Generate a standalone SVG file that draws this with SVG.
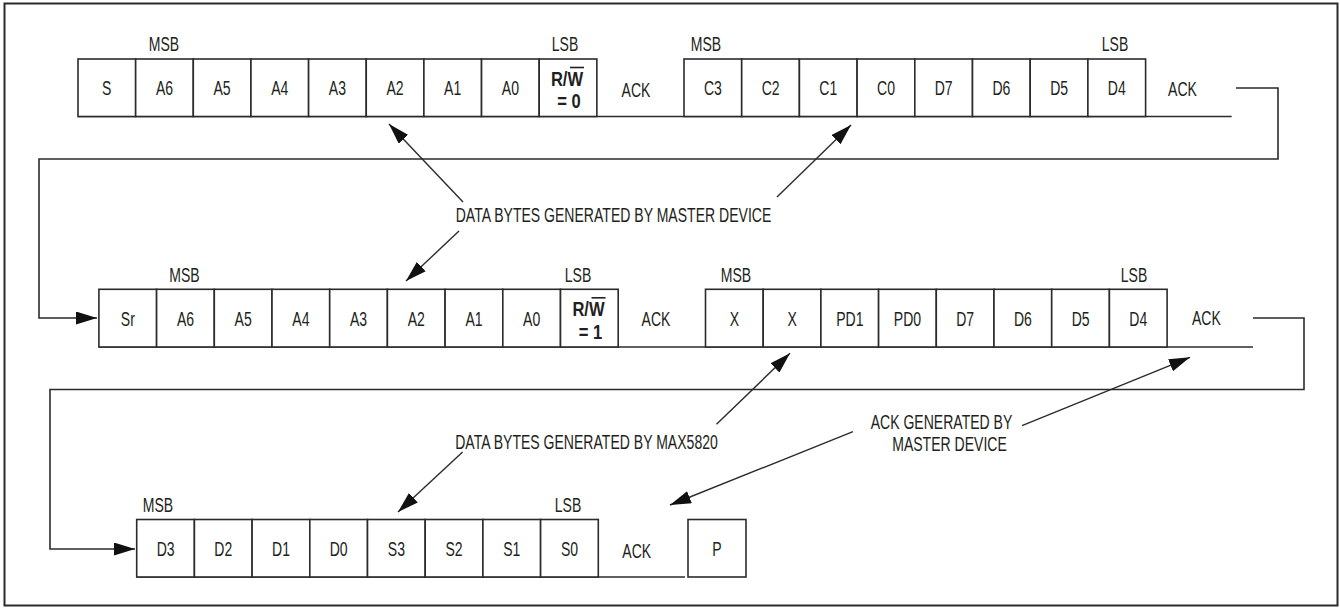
<svg xmlns="http://www.w3.org/2000/svg" width="1340" height="608" viewBox="0 0 1340 608">
<defs>
<style>
.frame{fill:none;stroke:#2b2b2b;stroke-width:2}
.cell{fill:#fff;stroke:#2b2b2b;stroke-width:1.6}
.ln{fill:none;stroke:#2b2b2b;stroke-width:1.6}
.ar{fill:none;stroke:#2b2b2b;stroke-width:1.4}
text{font-family:"Liberation Sans",Arial,sans-serif;font-size:19.5px;fill:#231f20;text-anchor:middle}
.b{font-weight:bold}
</style>
<marker id="ah" markerUnits="userSpaceOnUse" markerWidth="21" markerHeight="13" refX="21" refY="6.5" orient="auto" viewBox="0 0 21 13">
<path d="M0,0 L21,6.5 L0,13 Z" fill="#111"/>
</marker>
</defs>
<rect x="4.5" y="3.5" width="1333" height="602" class="frame"/>

<g id="connectors">
<polyline class="ln" points="1236,88 1278,88 1278,159 39,159 39,318 97,318" marker-end="url(#ah)"/>
<polyline class="ln" points="1253,318 1304,318 1304,389.5 50,389.5 50,549 135,549" marker-end="url(#ah)"/>
<line class="ar" x1="463" y1="202" x2="389" y2="124" marker-end="url(#ah)"/>
<line class="ar" x1="777" y1="197" x2="851" y2="125" marker-end="url(#ah)"/>
<line class="ar" x1="459" y1="231" x2="406" y2="281" marker-end="url(#ah)"/>
<line class="ar" x1="716.5" y1="424.3" x2="790" y2="353.3" marker-end="url(#ah)"/>
<line class="ar" x1="1022" y1="425.7" x2="1190" y2="357.3" marker-end="url(#ah)"/>
<line class="ar" x1="462.6" y1="452" x2="398" y2="512" marker-end="url(#ah)"/>
<line class="ar" x1="853" y1="431.7" x2="670" y2="505" marker-end="url(#ah)"/>
</g>

<g id="row1-address">
<line class="ln" x1="78" y1="116.5" x2="1231.7" y2="116.5"/>
<rect class="cell" x="78" y="59" width="57.65" height="57.5"/>
<rect class="cell" x="135.65" y="59" width="57.65" height="57.5"/>
<rect class="cell" x="193.3" y="59" width="57.65" height="57.5"/>
<rect class="cell" x="250.95" y="59" width="57.65" height="57.5"/>
<rect class="cell" x="308.6" y="59" width="57.65" height="57.5"/>
<rect class="cell" x="366.25" y="59" width="57.65" height="57.5"/>
<rect class="cell" x="423.9" y="59" width="57.65" height="57.5"/>
<rect class="cell" x="481.55" y="59" width="57.65" height="57.5"/>
<rect class="cell" x="539.2" y="59" width="57.65" height="57.5"/>
<text transform="translate(164 51) scale(0.72 1)">MSB</text>
<text transform="translate(565 51) scale(0.72 1)">LSB</text>
<text transform="translate(106.8 95) scale(0.72 1)">S</text>
<text transform="translate(164.5 95) scale(0.72 1)">A6</text>
<text transform="translate(222.1 95) scale(0.72 1)">A5</text>
<text transform="translate(279.8 95) scale(0.72 1)">A4</text>
<text transform="translate(337.4 95) scale(0.72 1)">A3</text>
<text transform="translate(395.1 95) scale(0.72 1)">A2</text>
<text transform="translate(452.7 95) scale(0.72 1)">A1</text>
<text transform="translate(510.4 95) scale(0.72 1)">A0</text>
<text class="b" transform="translate(567 85.5) scale(0.85 1)">R/W</text>
<line x1="570" y1="67.5" x2="584" y2="67.5" stroke="#231f20" stroke-width="1.6"/>
<text class="b" transform="translate(569 108) scale(0.85 1)">= 0</text>
<text transform="translate(636 97) scale(0.72 1)">ACK</text>
</g>

<g id="row1-command">
<rect class="cell" x="684" y="59" width="57.7" height="57.5"/>
<rect class="cell" x="741.7" y="59" width="57.7" height="57.5"/>
<rect class="cell" x="799.4" y="59" width="57.7" height="57.5"/>
<rect class="cell" x="857.1" y="59" width="57.7" height="57.5"/>
<rect class="cell" x="914.8" y="59" width="57.7" height="57.5"/>
<rect class="cell" x="972.5" y="59" width="57.7" height="57.5"/>
<rect class="cell" x="1030.2" y="59" width="57.7" height="57.5"/>
<rect class="cell" x="1087.9" y="59" width="57.7" height="57.5"/>
<text transform="translate(706 51) scale(0.72 1)">MSB</text>
<text transform="translate(1115 51) scale(0.72 1)">LSB</text>
<text transform="translate(712.9 95) scale(0.72 1)">C3</text>
<text transform="translate(770.6 95) scale(0.72 1)">C2</text>
<text transform="translate(828.3 95) scale(0.72 1)">C1</text>
<text transform="translate(886 95) scale(0.72 1)">C0</text>
<text transform="translate(943.7 95) scale(0.72 1)">D7</text>
<text transform="translate(1001.4 95) scale(0.72 1)">D6</text>
<text transform="translate(1059.1 95) scale(0.72 1)">D5</text>
<text transform="translate(1116.8 95) scale(0.72 1)">D4</text>
<text transform="translate(1182.5 96) scale(0.72 1)">ACK</text>
</g>

<g id="label-master">
<text transform="translate(613.5 221.5) scale(0.72 1)">DATA BYTES GENERATED BY MASTER DEVICE</text>
</g>

<g id="row2-address">
<line class="ln" x1="98.9" y1="347" x2="1253" y2="347"/>
<rect class="cell" x="98.9" y="289.3" width="57.7" height="57.7"/>
<rect class="cell" x="156.6" y="289.3" width="57.7" height="57.7"/>
<rect class="cell" x="214.3" y="289.3" width="57.7" height="57.7"/>
<rect class="cell" x="272" y="289.3" width="57.7" height="57.7"/>
<rect class="cell" x="329.7" y="289.3" width="57.7" height="57.7"/>
<rect class="cell" x="387.4" y="289.3" width="57.7" height="57.7"/>
<rect class="cell" x="445.1" y="289.3" width="57.7" height="57.7"/>
<rect class="cell" x="502.8" y="289.3" width="57.7" height="57.7"/>
<rect class="cell" x="560.5" y="289.3" width="57.7" height="57.7"/>
<text transform="translate(184.5 281.5) scale(0.72 1)">MSB</text>
<text transform="translate(578 281.5) scale(0.72 1)">LSB</text>
<text transform="translate(127.8 325.5) scale(0.72 1)">Sr</text>
<text transform="translate(185.5 325.5) scale(0.72 1)">A6</text>
<text transform="translate(243.2 325.5) scale(0.72 1)">A5</text>
<text transform="translate(300.9 325.5) scale(0.72 1)">A4</text>
<text transform="translate(358.6 325.5) scale(0.72 1)">A3</text>
<text transform="translate(416.3 325.5) scale(0.72 1)">A2</text>
<text transform="translate(474 325.5) scale(0.72 1)">A1</text>
<text transform="translate(531.7 325.5) scale(0.72 1)">A0</text>
<text class="b" transform="translate(588.5 315.8) scale(0.85 1)">R/W</text>
<line x1="591.5" y1="297.8" x2="605.5" y2="297.8" stroke="#231f20" stroke-width="1.6"/>
<text class="b" transform="translate(590.5 338.5) scale(0.85 1)">= 1</text>
<text transform="translate(656 326) scale(0.72 1)">ACK</text>
</g>

<g id="row2-data">
<rect class="cell" x="705.5" y="289.3" width="57.7" height="57.7"/>
<rect class="cell" x="763.2" y="289.3" width="57.7" height="57.7"/>
<rect class="cell" x="820.9" y="289.3" width="57.7" height="57.7"/>
<rect class="cell" x="878.6" y="289.3" width="57.7" height="57.7"/>
<rect class="cell" x="936.3" y="289.3" width="57.7" height="57.7"/>
<rect class="cell" x="994" y="289.3" width="57.7" height="57.7"/>
<rect class="cell" x="1051.7" y="289.3" width="57.7" height="57.7"/>
<rect class="cell" x="1109.4" y="289.3" width="57.7" height="57.7"/>
<text transform="translate(736 281.5) scale(0.72 1)">MSB</text>
<text transform="translate(1134 281.5) scale(0.72 1)">LSB</text>
<text transform="translate(734.4 325.5) scale(0.72 1)">X</text>
<text transform="translate(792.1 325.5) scale(0.72 1)">X</text>
<text transform="translate(849.8 325.5) scale(0.72 1)">PD1</text>
<text transform="translate(907.5 325.5) scale(0.72 1)">PD0</text>
<text transform="translate(965.2 325.5) scale(0.72 1)">D7</text>
<text transform="translate(1022.9 325.5) scale(0.72 1)">D6</text>
<text transform="translate(1080.6 325.5) scale(0.72 1)">D5</text>
<text transform="translate(1138.3 325.5) scale(0.72 1)">D4</text>
<text transform="translate(1206.4 325) scale(0.72 1)">ACK</text>
</g>

<g id="label-max5820">
<text transform="translate(586.5 448.5) scale(0.72 1)">DATA BYTES GENERATED BY MAX5820</text>
</g>

<g id="label-ack">
<text transform="translate(941.5 428.5) scale(0.72 1)">ACK GENERATED BY</text>
<text transform="translate(949.5 450.5) scale(0.72 1)">MASTER DEVICE</text>
</g>

<g id="row3-data">
<line class="ln" x1="136.7" y1="577" x2="685" y2="577"/>
<rect class="cell" x="136.7" y="519.5" width="57.7" height="57.5"/>
<rect class="cell" x="194.4" y="519.5" width="57.7" height="57.5"/>
<rect class="cell" x="252.1" y="519.5" width="57.7" height="57.5"/>
<rect class="cell" x="309.8" y="519.5" width="57.7" height="57.5"/>
<rect class="cell" x="367.5" y="519.5" width="57.7" height="57.5"/>
<rect class="cell" x="425.2" y="519.5" width="57.7" height="57.5"/>
<rect class="cell" x="482.9" y="519.5" width="57.7" height="57.5"/>
<rect class="cell" x="540.6" y="519.5" width="57.7" height="57.5"/>
<text transform="translate(158 512) scale(0.72 1)">MSB</text>
<text transform="translate(568 512) scale(0.72 1)">LSB</text>
<text transform="translate(165.6 556) scale(0.72 1)">D3</text>
<text transform="translate(223.3 556) scale(0.72 1)">D2</text>
<text transform="translate(281 556) scale(0.72 1)">D1</text>
<text transform="translate(338.7 556) scale(0.72 1)">D0</text>
<text transform="translate(396.4 556) scale(0.72 1)">S3</text>
<text transform="translate(454.1 556) scale(0.72 1)">S2</text>
<text transform="translate(511.8 556) scale(0.72 1)">S1</text>
<text transform="translate(569.5 556) scale(0.72 1)">S0</text>
<text transform="translate(636.7 557.5) scale(0.72 1)">ACK</text>
</g>

<g id="stop">
<rect class="cell" x="688" y="519.5" width="58" height="57.5"/>
<text transform="translate(717 556) scale(0.72 1)">P</text>
</g>
</svg>
